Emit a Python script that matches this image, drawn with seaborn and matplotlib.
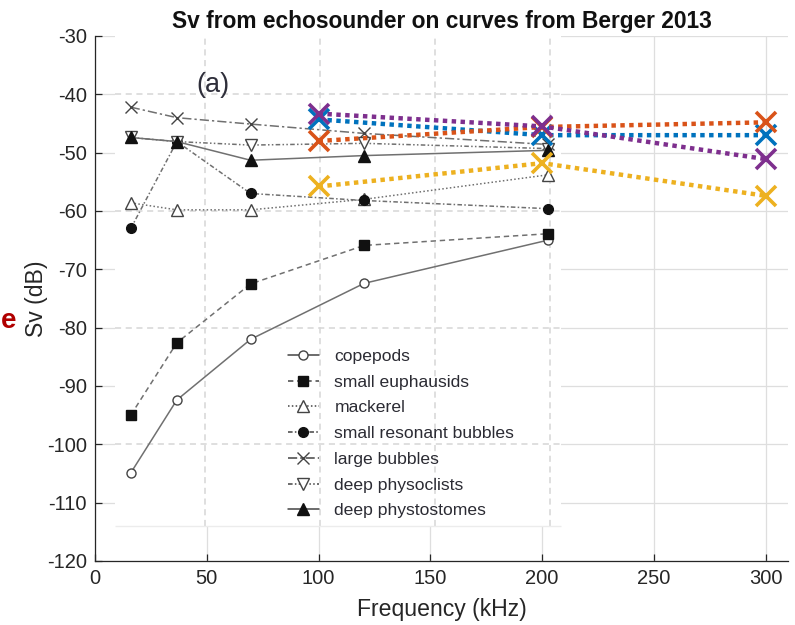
import matplotlib
matplotlib.use("Agg")
import matplotlib.pyplot as plt
from matplotlib.patches import Rectangle
from matplotlib.lines import Line2D
import seaborn as sns

sns.set_theme(style="white")
plt.rcParams['font.family'] = ['Liberation Sans', 'DejaVu Sans']
plt.rcParams['axes.unicode_minus'] = False

# ---- echosounder Sv (coloured series) ----
echo_freq = [100, 200, 300]
sv_blue = [-44.3, -47.0, -47.0]
sv_orange = [-48.0, -45.6, -44.8]
sv_yellow = [-55.8, -51.8, -57.4]
sv_purple = [-43.3, -45.5, -51.1]

# ---- Berger 2013 curves (positions as drawn in the embedded figure) ----
berger_freq = [16.0, 36.6, 69.6, 120.4, 202.6]
copepods = [-104.9, -92.4, -82.0, -72.4, -65.0]
small_euphausids = [-95.0, -82.6, -72.5, -65.9, -63.9]
mackerel = [-58.6, -59.8, -59.8, -58.0, -53.8]
small_resonant_bubbles = [-63.0, -48.1, -57.0, -58.2, -59.6]
large_bubbles = [-42.2, -44.0, -45.1, -46.7, -48.6]
deep_physoclists = [-47.4, -48.1, -48.7, -48.4, -49.3]
deep_physostomes = [-47.4, -48.1, -51.3, -50.5, -49.6]

berger_labels = ["copepods", "small euphausids", "mackerel", "small resonant bubbles",
                 "large bubbles", "deep physoclists", "deep phystostomes"]

xticks = [0, 50, 100, 150, 200, 250, 300]
yticks = [-120, -110, -100, -90, -80, -70, -60, -50, -40, -30]

fig = plt.figure(figsize=(7.95, 6.25), dpi=100)
ax = fig.add_axes([95 / 795, 1 - 561 / 625, 693 / 795, 525 / 625])
ax.set_xlim(0, 310)
ax.set_ylim(-120, -30)
ax.set_xticks(xticks)
ax.set_yticks(yticks)
ax.grid(True, color="#dedede", linewidth=0.9, linestyle="-")
ax.set_axisbelow(True)
for s in ["top", "right"]:
    ax.spines[s].set_visible(False)
for s in ["left", "bottom"]:
    ax.spines[s].set_color("#262626")
    ax.spines[s].set_linewidth(0.9)
ax.tick_params(direction="in", length=5, width=0.9, color="#262626",
               labelsize=14.5, labelcolor="#262626", pad=6,
               left=True, bottom=True)

# embedded figure background (white patch) with its own dashed grid
ax.add_patch(Rectangle((9, -114), 208.5 - 9, 84, facecolor="white",
                       edgecolor="none", zorder=0.8))
for gx in [49.2, 100.6, 152.0, 203.4]:
    ax.vlines(gx, -114, -30, colors="#d6d6d6", linestyles=(0, (4, 3)),
              linewidth=1.1, zorder=0.9)
for gy in [-40, -60, -80, -100]:
    ax.hlines(gy, 9, 208.5, colors="#d6d6d6", linestyles=(0, (4, 3)),
              linewidth=1.1, zorder=0.9)
ax.hlines(-114, 9, 208.5, colors="#ececec", linewidth=1.0, zorder=0.9)

berger_series = [copepods, small_euphausids, mackerel, small_resonant_bubbles,
                 large_bubbles, deep_physoclists, deep_physostomes]
styles = [
    dict(linestyle="-", marker="o", mfc="white", ms=6.5),
    dict(linestyle=(0, (3.5, 2.5)), marker="s", mfc="#111111", ms=7),
    dict(linestyle=(0, (1, 1.5)), marker="^", mfc="white", ms=8.5),
    dict(linestyle=(0, (3, 1.5, 1, 1.5)), marker="o", mfc="#111111", ms=7),
    dict(linestyle=(0, (6, 2, 1.5, 2)), marker="x", mfc="none", ms=8),
    dict(linestyle=(0, (3, 1.5, 1, 1.5, 1, 1.5)), marker="v", mfc="white", ms=8.5),
    dict(linestyle="-", marker="^", mfc="#111111", ms=8.5),
]
handles = []
for vals, st, lab in zip(berger_series, styles, berger_labels):
    mec = "#444444" if st["mfc"] in ("white", "none") else "#111111"
    sns.lineplot(x=berger_freq, y=vals, ax=ax, sort=False, color="#707070",
                 linewidth=1.1, linestyle=st["linestyle"], marker=st["marker"],
                 markersize=st["ms"], markerfacecolor=st["mfc"],
                 markeredgecolor=mec, markeredgewidth=1.0, zorder=2)
    handles.append(Line2D([], [], color="#444444", linewidth=1.1,
                          linestyle=st["linestyle"], marker=st["marker"],
                          markersize=st["ms"], markerfacecolor=st["mfc"],
                          markeredgecolor=mec))

leg = ax.legend(handles=handles, labels=berger_labels, loc="upper left",
                bbox_to_anchor=(86.3, -83.6), bbox_transform=ax.transData,
                frameon=False, fontsize=12.6, handlelength=1.75,
                handletextpad=0.9, labelspacing=0.6, borderpad=0,
                borderaxespad=0)
for t in leg.get_texts():
    t.set_color("#2b2b33")

ax.text(52.7, -38.4, "(a)", fontsize=19.5, color="#2e2e3a", ha="center",
        va="center", zorder=3)

# echosounder series
colors = ["#0072BD", "#D95319", "#EDB120", "#7E2F8E"]
for vals, c in zip([sv_blue, sv_orange, sv_yellow, sv_purple], colors):
    sns.lineplot(x=echo_freq, y=vals, ax=ax, sort=False, color=c,
                 linewidth=3.2, linestyle=(0, (1, 1)), marker="x",
                 markersize=14, markeredgewidth=2.6, markeredgecolor=c,
                 markerfacecolor=c, zorder=4)

ax.set_xlabel("Frequency (kHz)", fontsize=16.6, color="#262626", labelpad=7)
ax.set_ylabel("Sv (dB)", fontsize=16.6, color="#262626", labelpad=-1)
ax.set_title("Sv from echosounder on curves from Berger 2013", fontsize=16.4,
             fontweight="bold", color="#111111", pad=6)

fig.text(0.5 / 795, 1 - 321 / 625, "e", fontsize=20, fontweight="bold",
         color="#b00000", ha="left", va="center")

fig.savefig("out.png", dpi=100)
